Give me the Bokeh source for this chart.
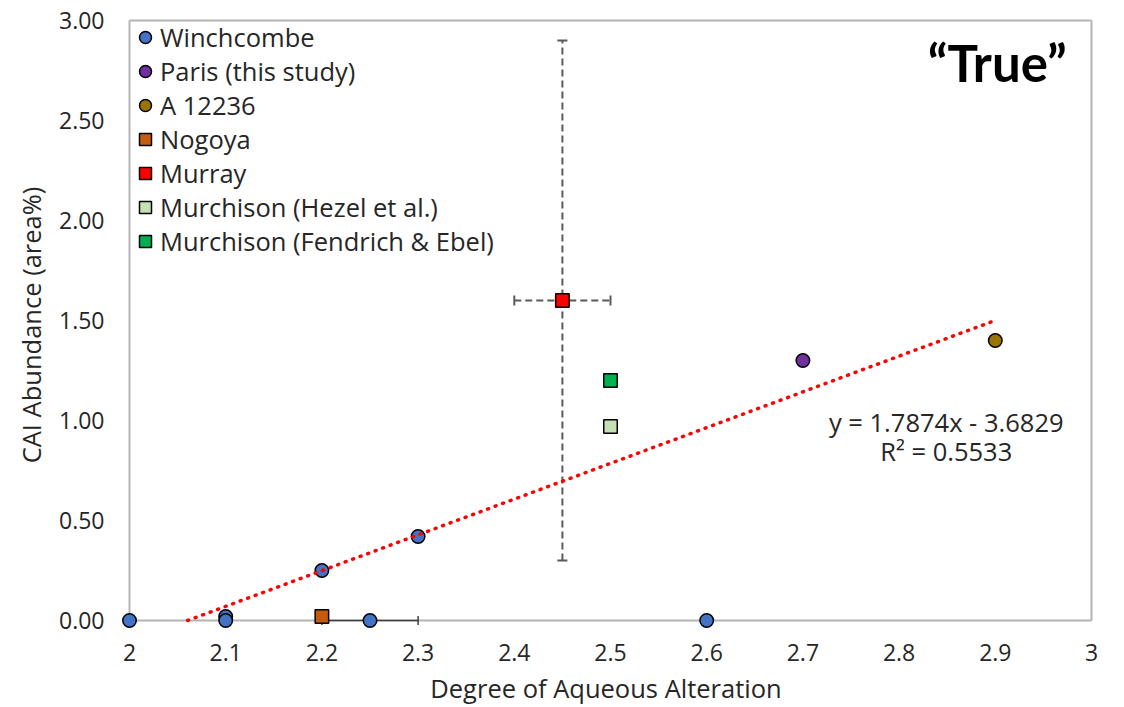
from bokeh.plotting import figure
from bokeh.models import (Range1d, FixedTicker, NumeralTickFormatter, CustomJSTickFormatter,
                          Label, Whisker, TeeHead, ColumnDataSource)
from bokeh.embed import file_html
from bokeh.resources import INLINE

# ---------------- data ----------------
winchcombe_x = [2.0, 2.1, 2.1, 2.2, 2.25, 2.3, 2.6]
winchcombe_y = [0.0, 0.02, 0.0, 0.25, 0.0, 0.42, 0.0]
winchcombe_err_x = [2.25]
winchcombe_err_y = [0.0]
winchcombe_err = [0.05]

paris_x = [2.7]
paris_y = [1.30]
a12236_x = [2.9]
a12236_y = [1.40]
nogoya_x = [2.2]
nogoya_y = [0.02]
murray_x = [2.45]
murray_y = [1.60]
murray_xerr = [0.05]
murray_yerr = [1.30]
hezel_x = [2.5]
hezel_y = [0.97]
fendrich_x = [2.5]
fendrich_y = [1.20]

trend_slope = 1.7874
trend_intercept = -3.6829
trend_r2 = 0.5533
trend_x_end = 2.9

x_ticks = [2.0, 2.1, 2.2, 2.3, 2.4, 2.5, 2.6, 2.7, 2.8, 2.9, 3.0]
y_ticks = [0.0, 0.5, 1.0, 1.5, 2.0, 2.5, 3.0]
X_MIN, X_MAX = 2.0, 3.0
Y_MIN, Y_MAX = 0.0, 3.0

# ---------------- figure ----------------
PX_X = 962.0
PX_Y = 200.0
x_range = Range1d(X_MIN - 12 / PX_X, X_MAX + 3 / PX_X)
y_range = Range1d(Y_MIN - 12 / PX_Y, Y_MAX + 3 / PX_Y)

p = figure(width=1124, height=707, x_range=x_range, y_range=y_range,
           output_backend="svg", toolbar_location=None,
           min_border_left=117, min_border_right=30, min_border_top=17, min_border_bottom=75)
p.outline_line_color = None
p.grid.visible = False
p.background_fill_color = "white"

FONT = "Open Sans"
TXT = "#262626"

for ax in (p.xaxis[0], p.yaxis[0]):
    ax.axis_line_color = None
    ax.major_tick_line_color = None
    ax.minor_tick_line_color = None
    ax.major_tick_out = 0
    ax.major_tick_in = 0
    ax.minor_tick_out = 0
    ax.minor_tick_in = 0
    ax.major_label_text_font = FONT
    ax.major_label_text_font_size = "23px"
    ax.major_label_text_color = TXT
    ax.axis_label_text_font = FONT
    ax.axis_label_text_font_size = "25.5px"
    ax.axis_label_text_font_style = "normal"
    ax.axis_label_text_color = TXT

p.xaxis.ticker = FixedTicker(ticks=x_ticks)
p.xaxis.formatter = CustomJSTickFormatter(code="return tick.toFixed(1).replace(/\\.0$/, '');")
p.xaxis.axis_label = "Degree of Aqueous Alteration"
p.xaxis.major_label_standoff = 11
p.xaxis.axis_label_standoff = 7

p.yaxis.ticker = FixedTicker(ticks=y_ticks)
p.yaxis.formatter = NumeralTickFormatter(format="0.00")
p.yaxis.axis_label = "CAI Abundance (area%)"
p.yaxis.major_label_standoff = 13
p.yaxis.axis_label_standoff = 8

# plot-area box (axes lines)
box_x0 = [X_MIN, X_MIN, X_MIN, X_MAX]
box_y0 = [Y_MIN, Y_MIN, Y_MAX, Y_MIN]
box_x1 = [X_MAX, X_MIN, X_MAX, X_MAX]
box_y1 = [Y_MIN, Y_MAX, Y_MAX, Y_MAX]
p.segment(box_x0, box_y0, box_x1, box_y1, line_color="#B4B4B4", line_width=2, level="image")

# error bars
ERR_DASH = "#5A5A5A"
src_w = ColumnDataSource(dict(base=winchcombe_err_y,
                              lower=[x - e for x, e in zip(winchcombe_err_x, winchcombe_err)],
                              upper=[x + e for x, e in zip(winchcombe_err_x, winchcombe_err)]))
p.add_layout(Whisker(source=src_w, base="base", lower="lower", upper="upper", dimension="width",
                     line_color="#404040", line_width=1.5,
                     upper_head=TeeHead(size=9, line_color="#404040", line_width=1.5),
                     lower_head=TeeHead(size=9, line_color="#404040", line_width=1.5)))

src_mx = ColumnDataSource(dict(base=murray_y,
                               lower=[x - e for x, e in zip(murray_x, murray_xerr)],
                               upper=[x + e for x, e in zip(murray_x, murray_xerr)]))
p.add_layout(Whisker(source=src_mx, base="base", lower="lower", upper="upper", dimension="width",
                     line_color=ERR_DASH, line_width=2, line_dash="7 4",
                     upper_head=TeeHead(size=10, line_color=ERR_DASH, line_width=2),
                     lower_head=TeeHead(size=10, line_color=ERR_DASH, line_width=2)))

src_my = ColumnDataSource(dict(base=murray_x,
                               lower=[y - e for y, e in zip(murray_y, murray_yerr)],
                               upper=[y + e for y, e in zip(murray_y, murray_yerr)]))
p.add_layout(Whisker(source=src_my, base="base", lower="lower", upper="upper", dimension="height",
                     line_color=ERR_DASH, line_width=2, line_dash="7 4",
                     upper_head=TeeHead(size=10, line_color=ERR_DASH, line_width=2),
                     lower_head=TeeHead(size=10, line_color=ERR_DASH, line_width=2)))

# markers
MS = 13.5
common = dict(size=MS, line_color="black", line_width=1.5)
p.scatter(winchcombe_x, winchcombe_y, marker="circle", fill_color="#4472C4", legend_label="Winchcombe", **common)
p.scatter(paris_x, paris_y, marker="circle", fill_color="#7030A0", legend_label="Paris (this study)", **common)
p.scatter(a12236_x, a12236_y, marker="circle", fill_color="#9C7400", legend_label="A 12236", **common)
p.scatter(nogoya_x, nogoya_y, marker="square", fill_color="#C55A11", legend_label="Nogoya", **common)
p.scatter(murray_x, murray_y, marker="square", fill_color="#FF0000", legend_label="Murray", **common)
p.scatter(hezel_x, hezel_y, marker="square", fill_color="#C5E0B4", legend_label="Murchison (Hezel et al.)", **common)
p.scatter(fendrich_x, fendrich_y, marker="square", fill_color="#00B050", legend_label="Murchison (Fendrich & Ebel)", **common)

# trend line
trend_x = [-trend_intercept / trend_slope, trend_x_end]
trend_y = [trend_slope * x + trend_intercept for x in trend_x]
p.line(trend_x, trend_y, line_color="#FF0000", line_width=3.5, line_dash="1 7", line_cap="round")

# legend
lg = p.legend[0]
lg.location = (13, 374)
lg.margin = 0
lg.padding = 0
lg.border_line_color = None
lg.background_fill_alpha = 0
lg.glyph_width = 30
lg.glyph_height = 30
lg.label_height = 30
lg.label_standoff = 0
lg.spacing = 0
lg.label_text_font = FONT
lg.label_text_font_size = "25.5px"
lg.label_text_color = TXT

# annotations
p.add_layout(Label(x=2.849, y=0.995, text=f"y = {trend_slope}x - {abs(trend_intercept)}",
                   text_align="center", text_baseline="middle", text_font=FONT,
                   text_font_size="25.5px", text_color=TXT))
p.add_layout(Label(x=2.849, y=0.85, text=f"R\u00b2 = {trend_r2}",
                   text_align="center", text_baseline="middle", text_font=FONT,
                   text_font_size="25.5px", text_color=TXT))
p.add_layout(Label(x=2.902, y=2.79, text="\u201cTrue\u201d",
                   text_align="center", text_baseline="middle", text_font="Lato",
                   text_font_size="51px", text_font_style="bold", text_color="black"))

open("out.html", "w").write(file_html(p, INLINE))
